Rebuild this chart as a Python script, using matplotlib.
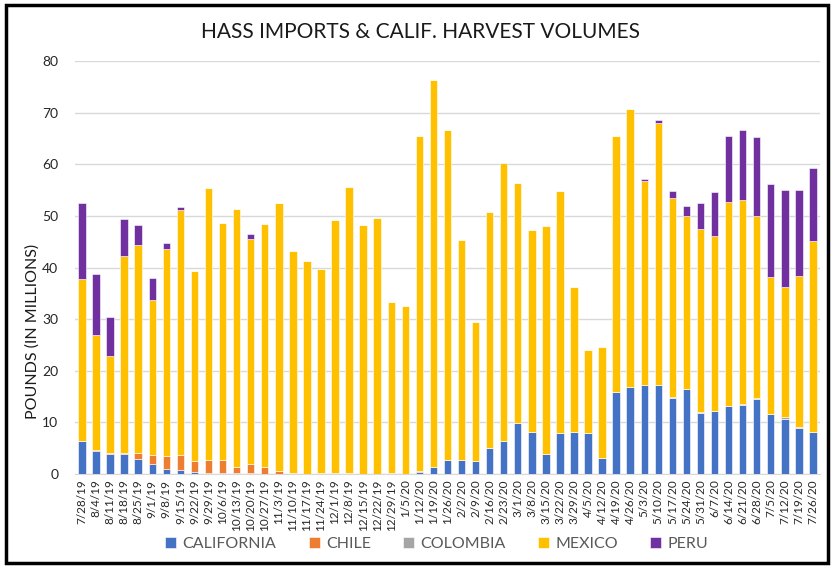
import matplotlib
matplotlib.use("Agg")
import matplotlib.pyplot as plt
import numpy as np
from matplotlib.patches import Rectangle

plt.rcParams['font.family'] = ['Lato', 'DejaVu Sans']

weeks = ["7/28/19", "8/4/19", "8/11/19", "8/18/19", "8/25/19", "9/1/19", "9/8/19",
         "9/15/19", "9/22/19", "9/29/19", "10/6/19", "10/13/19", "10/20/19", "10/27/19",
         "11/3/19", "11/10/19", "11/17/19", "11/24/19", "12/1/19", "12/8/19", "12/15/19",
         "12/22/19", "12/29/19", "1/5/20", "1/12/20", "1/19/20", "1/26/20", "2/2/20",
         "2/9/20", "2/16/20", "2/23/20", "3/1/20", "3/8/20", "3/15/20", "3/22/20",
         "3/29/20", "4/5/20", "4/12/20", "4/19/20", "4/26/20", "5/3/20", "5/10/20",
         "5/17/20", "5/24/20", "5/31/20", "6/7/20", "6/14/20", "6/21/20", "6/28/20",
         "7/5/20", "7/12/20", "7/19/20", "7/26/20"]

california = [6.4, 4.5, 3.8, 3.8, 2.9, 2.0, 1.0, 0.8, 0.45, 0.2, 0.2, 0.1, 0.1, 0.0,
              0.0, 0.0, 0.0, 0.0, 0.0, 0.0, 0.0, 0.0, 0.0, 0.0, 0.3, 1.4, 2.7, 2.7,
              2.5, 5.1, 6.4, 9.8, 8.2, 3.9, 8.0, 8.2, 8.0, 3.2, 15.8, 16.9, 17.3, 17.3,
              14.7, 16.5, 11.9, 12.3, 13.2, 13.4, 14.5, 11.6, 10.6, 8.9, 8.2]
chile = [0.0, 0.2, 0.2, 0.2, 1.2, 1.7, 2.5, 2.9, 2.0, 2.5, 2.5, 1.3, 1.8, 1.3,
         0.5, 0.1, 0.05, 0.2, 0.2, 0.2, 0.05, 0.05, 0.1, 0.05, 0.2, 0.0, 0.0, 0.0,
         0.0, 0.0, 0.0, 0.0, 0.0, 0.0, 0.0, 0.0, 0.0, 0.0, 0.0, 0.0, 0.0, 0.0,
         0.0, 0.0, 0.0, 0.0, 0.0, 0.0, 0.0, 0.0, 0.0, 0.0, 0.0]
colombia = [0.0, 0.0, 0.0, 0.0, 0.0, 0.0, 0.0, 0.0, 0.0, 0.0, 0.0, 0.0, 0.0, 0.0,
            0.0, 0.0, 0.0, 0.0, 0.0, 0.0, 0.0, 0.0, 0.0, 0.0, 0.0, 0.0, 0.0, 0.0,
            0.0, 0.0, 0.0, 0.0, 0.0, 0.0, 0.0, 0.0, 0.0, 0.0, 0.0, 0.0, 0.0, 0.0,
            0.2, 0.0, 0.2, 0.0, 0.0, 0.2, 0.3, 0.0, 0.4, 0.2, 0.0]
mexico = [31.3, 22.2, 18.9, 38.2, 40.3, 30.0, 40.2, 47.4, 36.8, 52.7, 45.9, 49.9, 43.6, 47.1,
          52.0, 43.1, 41.2, 39.5, 49.0, 55.5, 48.3, 49.6, 33.3, 32.5, 65.0, 74.9, 64.0, 42.6,
          27.0, 45.6, 53.8, 46.6, 39.0, 44.2, 46.8, 28.0, 16.0, 21.5, 49.7, 53.9, 39.5, 50.8,
          38.5, 33.5, 35.4, 33.8, 39.6, 39.6, 35.3, 26.5, 25.3, 29.3, 36.9]
peru = [14.8, 11.8, 7.5, 7.2, 3.9, 4.3, 1.1, 0.6, 0.0, 0.0, 0.0, 0.0, 1.0, 0.0,
        0.0, 0.0, 0.0, 0.0, 0.0, 0.0, 0.0, 0.0, 0.0, 0.0, 0.0, 0.0, 0.0, 0.0,
        0.0, 0.0, 0.0, 0.0, 0.0, 0.0, 0.0, 0.0, 0.0, 0.0, 0.0, 0.0, 0.4, 0.5,
        1.4, 2.0, 5.0, 8.5, 12.7, 13.5, 15.2, 18.1, 18.7, 16.6, 14.2]

series = [("CALIFORNIA", california, "#4472C4"),
          ("CHILE", chile, "#ED7D31"),
          ("COLOMBIA", colombia, "#A5A5A5"),
          ("MEXICO", mexico, "#FFC000"),
          ("PERU", peru, "#7030A0")]

fig = plt.figure(figsize=(8.32, 5.67), dpi=100)
ax = fig.add_axes([0.0901, 0.164, 0.8954, 0.728])

x = np.arange(len(weeks))
bottom = np.zeros(len(weeks))
for name, vals, col in series:
    vals = np.array(vals)
    ax.bar(x, vals, 0.53, bottom=bottom, color=col, label=name,
           edgecolor="white", linewidth=0.4, zorder=3)
    bottom += vals

ax.set_xlim(-0.5, len(weeks) - 0.5)
ax.set_ylim(0, 80)
ax.set_yticks(range(0, 81, 10))
ax.grid(axis="y", color="#D9D9D9", linewidth=1, zorder=0)
ax.set_xticks(x)
ax.set_xticklabels(weeks, rotation=90, fontsize=8.5, color="#262626")
ax.tick_params(axis="x", length=0, pad=4)
ax.tick_params(axis="y", length=0, labelsize=10, colors="#262626", pad=12)
for s in ["top", "right", "left"]:
    ax.spines[s].set_visible(False)
ax.spines["bottom"].set_color("#D9D9D9")

ax.set_ylabel("POUNDS (IN MILLIONS)", fontsize=11.5, color="#1a1a1a", labelpad=2)
ax.yaxis.set_label_coords(-0.047, 0.345)
fig.text(0.505, 0.944, "HASS IMPORTS & CALIF. HARVEST VOLUMES", ha="center", va="center",
         fontsize=15, color="#1a1a1a")

leg = fig.legend(loc="center", bbox_to_anchor=(0.525, 0.04), ncol=5, frameon=False,
                 fontsize=11.5, handlelength=0.7, handleheight=0.7, columnspacing=2.0,
                 handletextpad=0.4)
for t in leg.get_texts():
    t.set_color("#595959")

fig.patches.append(Rectangle((0.0075, 0.007), 0.988, 0.985, transform=fig.transFigure,
                             fill=False, edgecolor="black", linewidth=2.5))

fig.savefig("out.png", dpi=100)
